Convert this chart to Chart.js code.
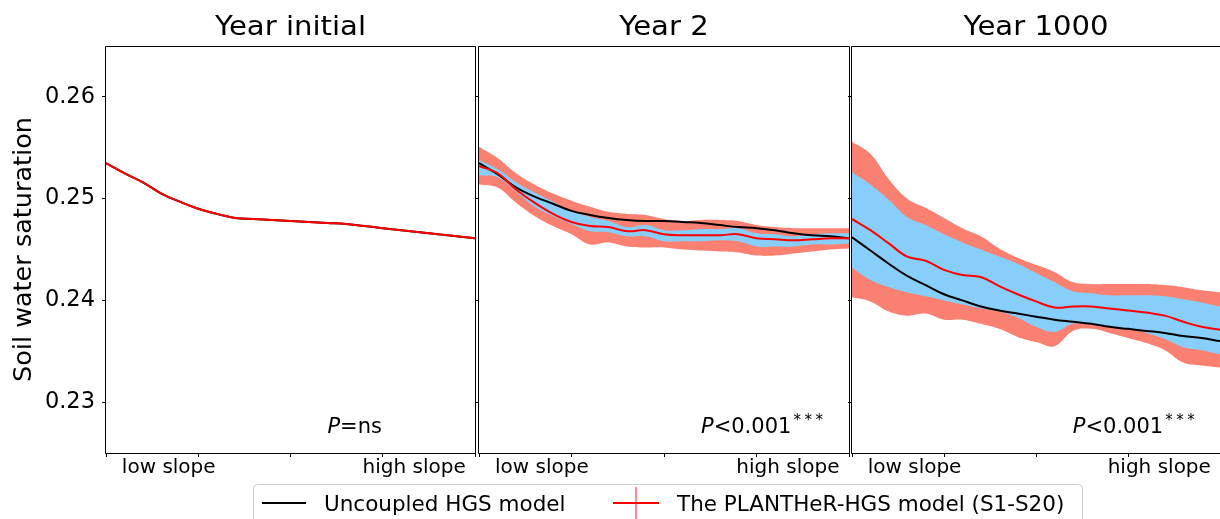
<!DOCTYPE html>
<html>
<head>
<meta charset="utf-8">
<script src="https://cdn.jsdelivr.net/npm/chart.js@4.4.0/dist/chart.umd.min.js"></script>
<style>
    html, body { margin: 0; padding: 0; background: #fff; }
    #wrap { position: relative; width: 1220px; height: 519px; overflow: hidden; }
    #wrap canvas { position: absolute; left: 0; top: 0; }
</style>
</head>
<body>
<div id="wrap">
    <canvas id="panel1" width="1220" height="519"></canvas>
    <canvas id="panel2" width="1220" height="519"></canvas>
    <canvas id="panel3" width="1220" height="519"></canvas>
</div>
<script>
// ===== DATA =====
const panelTitles = ['Year initial', 'Year 2', 'Year 1000'];
const seriesNames = ['Uncoupled HGS model', 'The PLANTHeR-HGS model (S1-S20)'];
const yTicks = [0.23, 0.24, 0.25, 0.26];
const xTicks = [0, 0.25, 0.5, 0.75, 1];
const xLabels = ['low slope', 'high slope'];
const xLabelAt = [0.17, 0.835];
const pRest = ['=ns', '<0.001', '<0.001'];
const pStars = ['', '***', '***'];

// position along the slope (0 = left edge, 1 = right edge)
const xPos = [0, 0.05, 0.1, 0.15, 0.2, 0.25, 0.3, 0.35, 0.4, 0.45, 0.5,
              0.55, 0.6, 0.65, 0.7, 0.75, 0.8, 0.85, 0.9, 0.95, 1];

// Year initial (both models identical)
const initPlanther = [0.2535, 0.2525, 0.2516, 0.2505, 0.2497, 0.2490, 0.2485, 0.2481, 0.2480, 0.2479, 0.2478,
                      0.2477, 0.2476, 0.2475, 0.2473, 0.2471, 0.2469, 0.2467, 0.2465, 0.2463, 0.2461];
const initUncoupled = [0.2535, 0.2525, 0.2516, 0.2505, 0.2497, 0.2490, 0.2485, 0.2481, 0.2480, 0.2479, 0.2478,
                       0.2477, 0.2476, 0.2475, 0.2473, 0.2471, 0.2469, 0.2467, 0.2465, 0.2463, 0.2461];

// Year 2
const y2Uncoupled = [0.2535, 0.2524, 0.2511, 0.2502, 0.2495, 0.2488, 0.2484, 0.2481, 0.2479, 0.2478, 0.2478,
                     0.2477, 0.2476, 0.2474, 0.2472, 0.2471, 0.2469, 0.2466, 0.2464, 0.2463, 0.2461];
const y2Planther = [0.2532, 0.2525, 0.2509, 0.2496, 0.2485, 0.2477, 0.2473, 0.2472, 0.2468, 0.2469, 0.2465,
                    0.2464, 0.2464, 0.2464, 0.2465, 0.2461, 0.2460, 0.2459, 0.2460, 0.2461, 0.2461];
const y2BlueHi = [0.2538, 0.2529, 0.2516, 0.2506, 0.2497, 0.2488, 0.2482, 0.2478, 0.2472, 0.2474, 0.2469,
                  0.2469, 0.2470, 0.2470, 0.2471, 0.2466, 0.2465, 0.2463, 0.2465, 0.2466, 0.2466];
const y2BlueLo = [0.2523, 0.2521, 0.2507, 0.2492, 0.2483, 0.2475, 0.2468, 0.2467, 0.2463, 0.2463, 0.2458,
                  0.2458, 0.2458, 0.2459, 0.2458, 0.2453, 0.2453, 0.2453, 0.2455, 0.2455, 0.2456];
const y2SalmonHi = [0.2551, 0.2540, 0.2525, 0.2514, 0.2505, 0.2498, 0.2492, 0.2487, 0.2485, 0.2484, 0.2480,
                    0.2478, 0.2479, 0.2479, 0.2478, 0.2474, 0.2472, 0.2471, 0.2471, 0.2471, 0.2471];
const y2SalmonLo = [0.2514, 0.2511, 0.2496, 0.2483, 0.2473, 0.2465, 0.2455, 0.2457, 0.2453, 0.2452, 0.2452,
                    0.2450, 0.2449, 0.2448, 0.2447, 0.2444, 0.2444, 0.2446, 0.2448, 0.2450, 0.2451];

// Year 1000
const y1000Uncoupled = [0.2462, 0.2449, 0.2436, 0.2424, 0.2415, 0.2406, 0.2400, 0.2394, 0.2390, 0.2387, 0.2384,
                        0.2381, 0.2379, 0.2377, 0.2374, 0.2372, 0.2370, 0.2368, 0.2365, 0.2363, 0.2360];
const y1000Planther = [0.2480, 0.2469, 0.2456, 0.2443, 0.2439, 0.2430, 0.2425, 0.2423, 0.2414, 0.2406, 0.2399,
                       0.2393, 0.2394, 0.2394, 0.2392, 0.2390, 0.2388, 0.2385, 0.2379, 0.2374, 0.2371];
const y1000BlueHi = [0.2526, 0.2514, 0.2499, 0.2482, 0.2474, 0.2465, 0.2457, 0.2450, 0.2443, 0.2436, 0.2427,
                     0.2418, 0.2409, 0.2407, 0.2405, 0.2405, 0.2405, 0.2404, 0.2401, 0.2398, 0.2394];
const y1000BlueLo = [0.2432, 0.2420, 0.2413, 0.2408, 0.2404, 0.2400, 0.2396, 0.2392, 0.2389, 0.2383, 0.2374,
                     0.2369, 0.2377, 0.2376, 0.2374, 0.2372, 0.2368, 0.2362, 0.2354, 0.2351, 0.2347];
const y1000SalmonHi = [0.2556, 0.2544, 0.2519, 0.2500, 0.2491, 0.2481, 0.2471, 0.2463, 0.2451, 0.2442, 0.2435,
                       0.2428, 0.2418, 0.2416, 0.2416, 0.2416, 0.2416, 0.2415, 0.2413, 0.2410, 0.2408];
const y1000SalmonLo = [0.2403, 0.2399, 0.2389, 0.2385, 0.2387, 0.2381, 0.2381, 0.2377, 0.2372, 0.2364, 0.2359,
                       0.2355, 0.2370, 0.2372, 0.2368, 0.2363, 0.2358, 0.2351, 0.2339, 0.2336, 0.2334];

// ===== STYLE =====
const RED = '#ff0000';
const BLACK = '#000000';
const SALMON = '#fa8072';
const SKYBLUE = '#87cefa';
const FONT = '"DejaVu Sans", "Liberation Sans", sans-serif';

Chart.defaults.font.family = FONT;
Chart.defaults.color = '#000';

const pts = arr => xPos.map((x, i) => ({ x: x, y: arr[i] }));

const lineSet = (label, arr, color) => ({
    label: label,
    data: pts(arr),
    borderColor: color,
    borderWidth: 2,
    fill: false,
    pointRadius: 0,
    tension: 0.4
});

const bandSet = (hi, lo, color) => ([
    { data: pts(hi), borderWidth: 0, borderColor: 'transparent', backgroundColor: color,
      fill: '+1', pointRadius: 0, tension: 0.4 },
    { data: pts(lo), borderWidth: 0, borderColor: 'transparent', backgroundColor: color,
      fill: false, pointRadius: 0, tension: 0.4 }
]);

// ===== PANEL DECORATION (frame, title, P value) =====
const panelDeco = idx => ({
    id: 'panelDeco' + idx,
    afterDraw(chart) {
        const a = chart.chartArea;
        const ctx = chart.ctx;
        const xs = chart.scales.x;
        const ys = chart.scales.y;
        ctx.save();

        // frame
        ctx.strokeStyle = '#000';
        ctx.lineWidth = 1;
        const l = Math.round(a.left) - 0.5, r = Math.round(a.right) + 0.5;
        const t = Math.round(a.top) + 0.5, b = Math.round(a.bottom) + 0.5;
        ctx.beginPath();
        ctx.moveTo(l, t); ctx.lineTo(r, t); ctx.lineTo(r, b); ctx.lineTo(l, b); ctx.closePath();
        ctx.stroke();

        // title
        ctx.fillStyle = '#000';
        ctx.font = '26px ' + FONT;
        ctx.textAlign = 'center';
        ctx.textBaseline = 'alphabetic';
        ctx.save();
        ctx.translate((a.left + a.right) / 2, a.top - 11);
        ctx.scale(1.12, 1);
        ctx.fillText(panelTitles[idx], 0, 0);
        ctx.restore();

        // P annotation
        let px = xs.getPixelForValue(0.6);
        const py = ys.getPixelForValue(0.227);
        ctx.textAlign = 'left';
        ctx.font = 'italic 21px ' + FONT;
        ctx.fillText('P', px, py);
        px += ctx.measureText('P').width;
        ctx.font = '21px ' + FONT;
        ctx.fillText(pRest[idx], px, py);
        px += ctx.measureText(pRest[idx]).width + 2;
        ctx.font = '15px ' + FONT;
        pStars[idx].split('').forEach((s, k) => {
            ctx.fillText(s, px + k * 11, py - 8);
        });
        ctx.restore();
    }
});

// ===== LEGEND (drawn across the bottom) =====
const legendBox = {
    id: 'legendBox',
    afterDraw(chart) {
        const ctx = chart.ctx;
        ctx.save();
        ctx.beginPath();
        ctx.roundRect(253.5, 484.5, 829, 40, 4);
        ctx.fillStyle = 'rgba(255,255,255,0.85)';
        ctx.fill();
        ctx.strokeStyle = '#cccccc';
        ctx.lineWidth = 1;
        ctx.stroke();

        ctx.lineWidth = 2;
        ctx.strokeStyle = BLACK;
        ctx.beginPath(); ctx.moveTo(262, 503); ctx.lineTo(306, 503); ctx.stroke();

        ctx.strokeStyle = 'rgba(255,0,0,0.45)';
        ctx.beginPath(); ctx.moveTo(636, 487); ctx.lineTo(636, 520); ctx.stroke();
        ctx.strokeStyle = RED;
        ctx.beginPath(); ctx.moveTo(613, 503); ctx.lineTo(659, 503); ctx.stroke();

        ctx.fillStyle = '#000';
        ctx.font = '21.5px ' + FONT;
        ctx.textBaseline = 'alphabetic';
        ctx.fillText(seriesNames[0], 324, 511);
        ctx.fillText(seriesNames[1], 677, 511);
        ctx.restore();
    }
};

// ===== BUILD PANELS =====
function makePanel(canvasId, idx, datasets, padLeft, padRight, extraPlugins) {
    const first = idx === 0;
    return new Chart(document.getElementById(canvasId), {
        type: 'line',
        data: { datasets: datasets },
        options: {
            responsive: false,
            animation: false,
            devicePixelRatio: 1,
            layout: { padding: { left: padLeft, right: padRight, top: 46, bottom: 36 } },
            plugins: {
                legend: { display: false },
                tooltip: { enabled: false },
                title: { display: false }
            },
            scales: {
                x: {
                    type: 'linear',
                    min: 0,
                    max: 1,
                    afterBuildTicks: ax => {
                        ax.ticks = xTicks.concat(xLabelAt).sort((p, q) => p - q).map(v => ({ value: v }));
                    },
                    afterFit: ax => { ax.height = 30; },
                    ticks: {
                        autoSkip: false,
                        maxRotation: 0,
                        padding: -1,
                        color: '#000',
                        font: { size: 20 },
                        callback: v => {
                            const k = xLabelAt.indexOf(v);
                            return k >= 0 ? xLabels[k] : '';
                        }
                    },
                    grid: {
                        drawOnChartArea: false,
                        drawTicks: true,
                        tickLength: 4,
                        tickColor: c => (c.tick && xLabelAt.includes(c.tick.value)) ? 'rgba(0,0,0,0)' : '#000'
                    },
                    border: { display: false }
                },
                y: {
                    min: 0.225,
                    max: 0.265,
                    afterBuildTicks: ax => { ax.ticks = yTicks.map(v => ({ value: v })); },
                    afterFit: ax => { ax.width = first ? 106 : 5; },
                    ticks: {
                        padding: 7,
                        color: '#000',
                        font: { size: 22.5 },
                        callback: v => first ? v.toFixed(2) : ''
                    },
                    grid: {
                        drawOnChartArea: false,
                        drawTicks: true,
                        tickLength: 4,
                        tickColor: '#000'
                    },
                    border: { display: false },
                    title: {
                        display: first,
                        text: 'Soil water saturation',
                        color: '#000',
                        font: { size: 25.5 },
                        padding: { top: 9, bottom: 0 }
                    }
                }
            }
        },
        plugins: [panelDeco(idx)].concat(extraPlugins || [])
    });
}

makePanel('panel1', 0, [
    lineSet(seriesNames[1], initPlanther, RED),
    lineSet(seriesNames[0], initUncoupled, BLACK)
], 0, 745);

makePanel('panel2', 1, [
    lineSet(seriesNames[1], y2Planther, RED),
    lineSet(seriesNames[0], y2Uncoupled, BLACK)
].concat(bandSet(y2BlueHi, y2BlueLo, SKYBLUE), bandSet(y2SalmonHi, y2SalmonLo, SALMON)), 474, 371);

makePanel('panel3', 2, [
    lineSet(seriesNames[1], y1000Planther, RED),
    lineSet(seriesNames[0], y1000Uncoupled, BLACK)
].concat(bandSet(y1000BlueHi, y1000BlueLo, SKYBLUE), bandSet(y1000SalmonHi, y1000SalmonLo, SALMON)), 847, 0, [legendBox]);
</script>
</body>
</html>
